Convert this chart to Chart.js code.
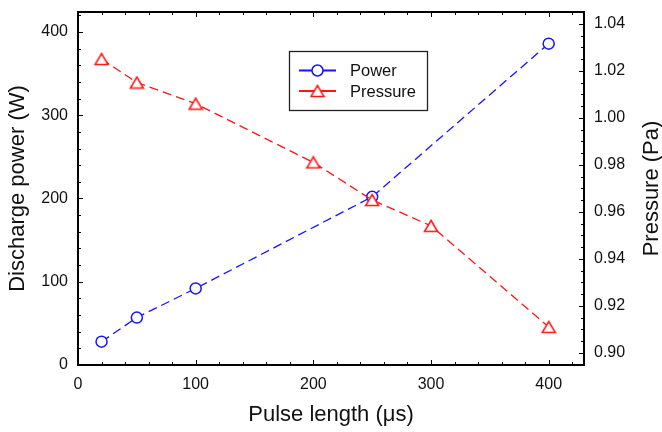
<!DOCTYPE html>
<html>
<head>
<meta charset="UTF-8">
<title>Power and pressure vs pulse length</title>
<script src="https://cdn.jsdelivr.net/npm/chart.js"></script>
<style>
  body { margin: 0; background: #fff; }
  #wrap { width: 662px; height: 432px; }
</style>
</head>
<body>
<div id="wrap"><canvas id="chart" width="662" height="432"></canvas></div>
<script>
// data
var powerPulse = [20, 50, 100, 250, 400];
var powerValues = [28, 57, 92, 202, 386];
var pressurePulse = [20, 50, 100, 200, 250, 300, 400];
var pressureValues = [1.025, 1.015, 1.006, 0.981, 0.965, 0.954, 0.911];

var xTicks = [0, 100, 200, 300, 400];
var powerTicks = [0, 100, 200, 300, 400];
var pressureTicks = [0.90, 0.92, 0.94, 0.96, 0.98, 1.00, 1.02, 1.04];

var FONT = "'Liberation Sans', Arial, sans-serif";
var BLUE = '#1414ff';
var RED = '#ff1414';

// hollow triangle marker, centred on its bounding box
function triangleMarker() {
  var c = document.createElement('canvas');
  c.width = 16; c.height = 14;
  var g = c.getContext('2d');
  g.beginPath();
  g.moveTo(8, 1.5);
  g.lineTo(14.5, 12.5);
  g.lineTo(1.5, 12.5);
  g.closePath();
  g.fillStyle = '#fff';
  g.fill();
  g.lineWidth = 1.5;
  g.strokeStyle = RED;
  g.stroke();
  return c;
}
var tri = triangleMarker();

function pts(xs, ys) {
  return xs.map(function (x, i) { return { x: x, y: ys[i] }; });
}

// frame, inward ticks (major + minor) on all four sides, right title
var framePlugin = {
  id: 'frame',
  afterDatasetsDraw: function (chart) {
    var ctx = chart.ctx, a = chart.chartArea;
    var sx = chart.scales.x, sl = chart.scales.yPower, sr = chart.scales.yPressure;
    ctx.save();
    ctx.strokeStyle = '#000';
    ctx.lineWidth = 1;
    ctx.beginPath();
    var v, p, len;
    for (v = 0; v <= 420; v += 20) {
      p = Math.round(sx.getPixelForValue(v)) + 0.5;
      len = v % 100 === 0 ? 5 : 3;
      ctx.moveTo(p, a.bottom); ctx.lineTo(p, a.bottom - len);
      ctx.moveTo(p, a.top); ctx.lineTo(p, a.top + len);
    }
    for (v = 0; v <= 420; v += 20) {
      p = Math.round(sl.getPixelForValue(v)) + 0.5;
      len = v % 100 === 0 ? 5 : 3;
      ctx.moveTo(a.left, p); ctx.lineTo(a.left + len, p);
    }
    for (var k = 0; k <= 29; k++) {
      v = 0.900 + k * 0.005;
      p = Math.round(sr.getPixelForValue(v)) + 0.5;
      len = k % 4 === 0 ? 5 : 3;
      ctx.moveTo(a.right, p); ctx.lineTo(a.right - len, p);
    }
    ctx.stroke();
    ctx.lineWidth = 2;
    ctx.strokeRect(a.left, a.top, a.right - a.left, a.bottom - a.top);

    // right axis title reads bottom-to-top like the left one
    ctx.translate(652, (a.top + a.bottom) / 2);
    ctx.rotate(-Math.PI / 2);
    ctx.fillStyle = '#111';
    ctx.font = '22px ' + FONT;
    ctx.textAlign = 'center';
    ctx.textBaseline = 'middle';
    ctx.fillText('Pressure (Pa)', 0, 0);
    ctx.restore();
  }
};

// boxed legend inside the plot
var boxLegend = {
  id: 'boxLegend',
  afterDraw: function (chart) {
    var ctx = chart.ctx;
    var x0 = 289, y0 = 51, w = 138, h = 59;
    ctx.save();
    ctx.fillStyle = '#fff';
    ctx.fillRect(x0, y0, w, h);
    ctx.strokeStyle = '#222';
    ctx.lineWidth = 1.3;
    ctx.strokeRect(x0 + 0.5, y0 + 0.5, w, h);
    chart.data.datasets.forEach(function (ds, i) {
      var y = 70.5 + i * 20.5;
      ctx.strokeStyle = ds.borderColor;
      ctx.lineWidth = 2;
      ctx.beginPath();
      ctx.moveTo(299, y); ctx.lineTo(336, y);
      ctx.stroke();
      if (ds.pointStyle === 'circle') {
        ctx.beginPath();
        ctx.arc(317.5, y, 5.5, 0, Math.PI * 2);
        ctx.fillStyle = '#fff';
        ctx.fill();
        ctx.lineWidth = 1.5;
        ctx.stroke();
      } else {
        ctx.drawImage(ds.pointStyle, 317.5 - ds.pointStyle.width / 2, y - ds.pointStyle.height / 2);
      }
      ctx.fillStyle = '#111';
      ctx.font = '16.5px ' + FONT;
      ctx.textBaseline = 'middle';
      ctx.fillText(ds.label, 350, y + 1);
    });
    ctx.restore();
  }
};

function fixedTicks(list) {
  return function (scale) {
    scale.ticks = list.map(function (v) { return { value: v }; });
  };
}
function fitY(s) { s.width = 78; s.paddingTop = 0; s.paddingBottom = 0; }

new Chart(document.getElementById('chart'), {
  type: 'line',
  data: {
    datasets: [{
      label: 'Power',
      data: pts(powerPulse, powerValues),
      yAxisID: 'yPower',
      order: 2,
      borderColor: BLUE,
      borderWidth: 1.3,
      borderDash: [9, 5],
      pointStyle: 'circle',
      pointRadius: 5.5,
      pointBorderWidth: 1.5,
      pointBackgroundColor: '#fff',
      pointBorderColor: BLUE,
      fill: false,
      tension: 0
    }, {
      label: 'Pressure',
      data: pts(pressurePulse, pressureValues),
      yAxisID: 'yPressure',
      order: 1,
      borderColor: RED,
      borderWidth: 1.3,
      borderDash: [9, 5],
      pointStyle: tri,
      pointRadius: 7,
      fill: false,
      tension: 0
    }]
  },
  options: {
    responsive: false,
    animation: false,
    events: [],
    layout: { padding: { top: 12, left: 0, right: 0, bottom: 0 } },
    plugins: { legend: { display: false }, tooltip: { enabled: false } },
    scales: {
      x: {
        type: 'linear',
        min: 0, max: 430,
        afterBuildTicks: fixedTicks(xTicks),
        afterFit: function (s) { s.height = 67; s.paddingLeft = 0; s.paddingRight = 0; },
        grid: { display: false, drawTicks: false },
        border: { display: false },
        ticks: { color: '#111', padding: 10, font: { family: FONT, size: 16 }, maxRotation: 0 },
        title: { display: true, text: 'Pulse length (μs)', color: '#111', font: { family: FONT, size: 22 }, padding: { top: 0, bottom: 4 } }
      },
      yPower: {
        type: 'linear',
        position: 'left',
        min: 0, max: 424,
        afterBuildTicks: fixedTicks(powerTicks),
        afterFit: fitY,
        grid: { display: false, drawTicks: false },
        border: { display: false },
        ticks: { color: '#111', padding: 10, font: { family: FONT, size: 16 } },
        title: { display: true, text: 'Discharge power (W)', color: '#111', font: { family: FONT, size: 22 }, padding: { top: 5, bottom: 0 } }
      },
      yPressure: {
        type: 'linear',
        position: 'right',
        min: 0.8948, max: 1.045,
        afterBuildTicks: fixedTicks(pressureTicks),
        afterFit: fitY,
        grid: { display: false, drawTicks: false },
        border: { display: false },
        ticks: {
          color: '#111', padding: 10, font: { family: FONT, size: 16 },
          callback: function (v) { return v.toFixed(2); }
        },
        title: { display: false }
      }
    }
  },
  plugins: [framePlugin, boxLegend]
});
</script>
</body>
</html>
